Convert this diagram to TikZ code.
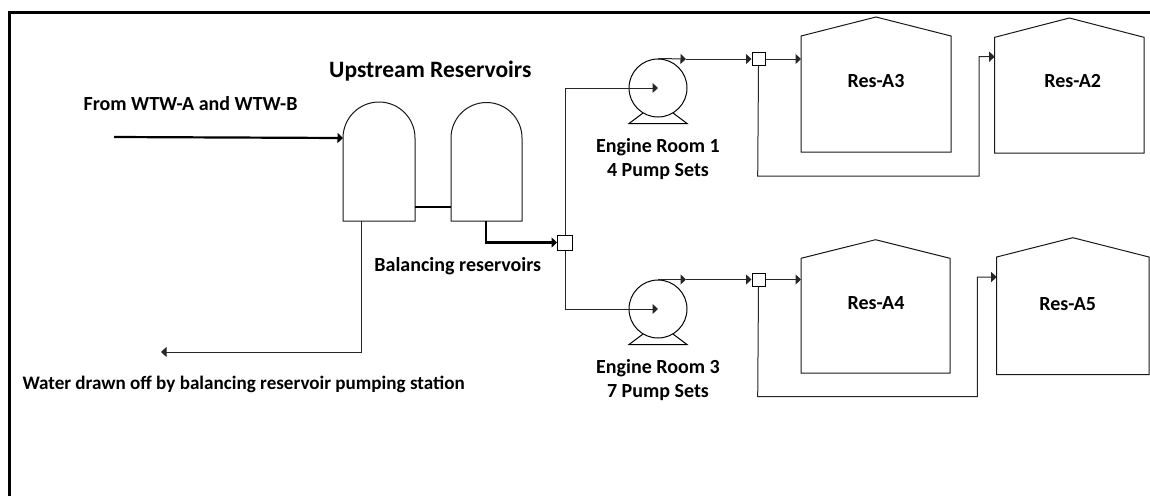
\documentclass[tikz,border=0pt]{standalone}
\usepackage{fontspec}
\setmainfont{Carlito}
\usetikzlibrary{arrows.meta,positioning}

\tikzset{
  pipe/.style={draw=black!85,line width=1pt},
  main/.style={draw=black,line width=2.2pt},
  flow/.style={-{Triangle[length=5.5pt,width=10pt]}},
  tank/.style={draw=black!90,line width=1pt,fill=white},
  joint/.style={draw=black,line width=1pt,fill=white,minimum size=13pt,inner sep=0pt},
  lbl/.style={font=\fontsize{20}{24}\selectfont\bfseries,align=center,inner sep=0pt}
}

\begin{document}
\begin{tikzpicture}[x=1pt,y=-1pt]
\useasboundingbox (0,0) rectangle (1150,496);

% outer frame
\draw[line width=3.5pt] (9.5,496) -- (9.5,12.3) -- (1150,12.3);

% balancing reservoirs
\draw[tank] (343,221) -- (343,138) arc (180:360:36) -- (415,221) -- cycle;
\draw[tank] (451,221) -- (451,138) arc (180:360:35.5) -- (522,221) -- cycle;
\coordinate (inA) at (114,137);
\coordinate (inB) at (343,138);
\coordinate (linkA) at (415,207);
\coordinate (linkB) at (451,207);
\coordinate (outB) at (486,221);
\coordinate (drawA) at (361,221);
\coordinate (drawB) at (161,352);
\draw[main,flow] (inA) -- (inB);
\draw[main] (linkA) -- (linkB);
\draw[pipe,flow] (drawA) |- (drawB);

% junctions
\node[joint,minimum size=15pt] (J0) at (565,242.5) {};
\node[joint] (J1) at (758.5,59) {};
\node[joint] (J2) at (758.5,279.5) {};
\draw[main,flow] (outB) |- (J0.west);

% pumps
\foreach \name/\py/\txt in {1/88/{Engine Room 1\\4 Pump Sets}, 3/309/{Engine Room 3\\7 Pump Sets}} {
  \node[draw,circle,line width=1pt,minimum size=58pt,inner sep=0pt] (P\name) at (658,\py) {};
  \draw[line width=1pt] (643,\py+25) -- (629,\py+35.5) -- (687,\py+35.5) -- (673,\py+25);
  \node[lbl] (L\name) at (658,\py+71) {\txt};
}
\draw[pipe,flow] (J0.north) |- (P1.center);
\draw[pipe,flow] (J0.south) |- (P3.center);

% reservoirs
\foreach \name/\ax/\rw/\ay/\pk/\rb/\tx/\ty in {A3/801/150/36/17/152/876/81, A2/994.7/149.3/37.3/18/153/1072.7/81.5, A4/801/149/258.3/239.7/373/876/303.5, A5/996.7/152.3/257/237.7/374.7/1067.7/304.5} {
  \draw[tank] (\ax,\ay) -- (\ax+\rw/2,\pk) -- (\ax+\rw,\ay) -- (\ax+\rw,\rb) -- (\ax,\rb) -- cycle;
  \node[lbl] (R\name) at (\tx,\ty) {Res-\name};
}
\coordinate (A3in) at (801,59);
\coordinate (A4in) at (801,279.5);
\coordinate (A2in) at (994.7,56.7);
\coordinate (A5in) at (996.7,277);
\coordinate (T1) at (686,59);
\coordinate (T3) at (686,279.5);

% outlets
\draw[pipe,flow] (P1.north) -- (T1);
\draw[pipe,flow] (T1) -- (J1.west);
\draw[pipe,flow] (J1.east) -- (A3in);
\draw[pipe,flow] (J1.south) -- (757.7,176) -- (979,176) -- (979,56.7) -- (A2in);
\draw[pipe,flow] (P3.north) -- (T3);
\draw[pipe,flow] (T3) -- (J2.west);
\draw[pipe,flow] (J2.east) -- (A4in);
\draw[pipe,flow] (J2.south) -- (757.7,396.7) -- (977.3,396.7) -- (977.3,277) -- (A5in);

% labels
\node[lbl,font=\fontsize{23.5}{28}\selectfont\bfseries] (up) at (430.3,71.5) {Upstream Reservoirs};
\node[lbl] (from) at (190.6,103.5) {From WTW-A and WTW-B};
\node[lbl] (bal) at (457.8,266) {Balancing reservoirs};
\node[lbl,anchor=west,font=\fontsize{19.1}{24}\selectfont\bfseries] (off) at (22.3,384.5) {Water drawn off by balancing reservoir pumping station};
\end{tikzpicture}
\end{document}
